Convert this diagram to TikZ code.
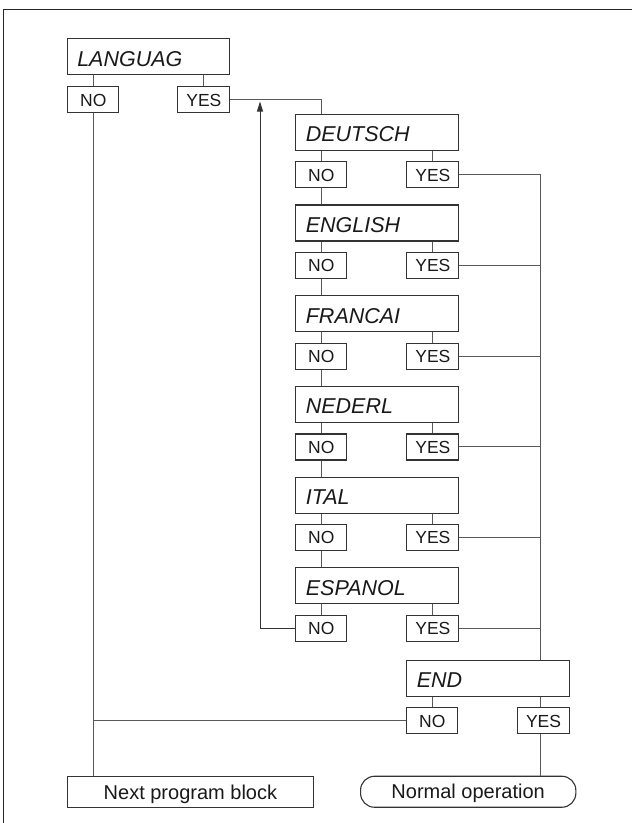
\documentclass[tikz,border=0pt]{standalone}
\usepackage{fontspec}
\setmainfont{Liberation Sans}
\usetikzlibrary{arrows.meta}
\begin{document}
\begin{tikzpicture}[x=1pt,y=-1pt,
  boxline/.style={draw=black!80, line width=1.1pt, text=black!90},
  lbl/.style={boxline, anchor=north west, minimum height=36pt, inner xsep=10pt, inner ysep=0pt,
    text width=143pt, align=left, text height=19pt, text depth=0pt,
    font=\fontsize{21.5}{25}\selectfont\itshape},
  yn/.style={boxline, anchor=north west, minimum width=51pt, minimum height=26pt, inner sep=0pt,
    text height=12.5pt, text depth=0pt, font=\fontsize{17.5}{20}\selectfont},
  endbox/.style={boxline, anchor=north west, minimum height=31pt, inner sep=0pt,
    text height=14pt, text depth=0pt, font=\fontsize{20}{24}\selectfont},
  conn/.style={draw=black!65, line width=1pt},
]
\useasboundingbox (0,0) rectangle (632,823);
\draw[line width=1.5pt, black!85] (3.5,830) -- (3.5,9.7) -- (640,9.7);

\coordinate (bus) at (540.5,0);
\coordinate (ret) at (260,101.5);

% top block
\node[lbl, text width=142.6pt] (LG) at (66.7,38) {LANGUAG};
\node[yn] (LN) at (67.3,86.3) {NO};
\node[yn, minimum width=52pt] (LY) at (177.3,86.3) {YES};
\draw[conn] (LG.south -| LN.north) -- (LN.north);
\draw[conn] (LG.south -| LY.north) -- (LY.north);

% language rows
\foreach \t [count=\i from 0] in {DEUTSCH,ENGLISH,FRANCAI,NEDERL,ITAL,ESPANOL} {
  \node[lbl] (L\i) at (295.3,113.7+90.7*\i) {\t};
  \node[yn] (N\i) at (295.3,161.3+90.7*\i) {NO};
  \node[yn, minimum width=52pt] (Y\i) at (406.3,161.3+90.7*\i) {YES};
  \draw[conn] (L\i.south -| N\i.north) -- (N\i.north);
  \draw[conn] (L\i.south -| Y\i.north) -- (Y\i.north);
  \draw[conn] (Y\i.east) -- (Y\i.east -| bus);
}
\foreach \i/\j in {0/1,1/2,2/3,3/4,4/5} {
  \draw[conn] (N\i.south) -- (L\j.north -| N\i.south);
}

% END block
\node[lbl] (E) at (406.3,659.7) {END};
\node[yn] (EN) at (406.3,707.3) {NO};
\node[yn, minimum width=52pt] (EY) at (517,707.3) {YES};
\draw[conn] (E.south -| EN.north) -- (EN.north);
\draw[conn] (E.south -| bus) -- (EY.north -| bus);

% final boxes
\node[endbox, minimum width=246.3pt] (NP) at (66.7,776) {Next program block};
\node[endbox, minimum width=215.3pt, rounded corners=14pt] (NO) at (360,775.7) {Normal operation};

% connectors
\draw[conn] (LY.east) -| (L0.north -| N0.north);
\draw[conn] (Y0.east -| bus) -- (E.north -| bus);
\draw[conn, draw=black!80, -{Triangle[length=10pt,width=6pt]}] (N5.west) -| (ret);
\draw[conn] (LN.south) -- (NP.north -| LN.south);
\draw[conn] (EN.west) -- (EN.west -| LN.south);
\draw[conn] (EY.south -| bus) -- (NO.north -| bus);
\end{tikzpicture}
\end{document}
